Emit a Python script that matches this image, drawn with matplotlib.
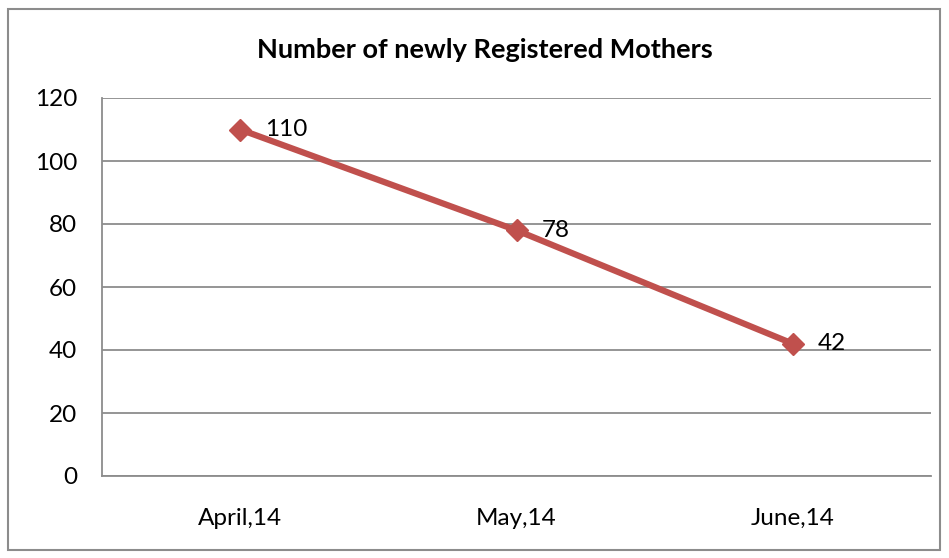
import matplotlib
matplotlib.use("Agg")
import matplotlib.pyplot as plt
from matplotlib.patches import Rectangle

# data
months = ["April,14", "May,14", "June,14"]
mothers = [110, 78, 42]
yticks = [0, 20, 40, 60, 80, 100, 120]

plt.rcParams['font.family'] = ['Lato', 'DejaVu Sans']

fig = plt.figure(figsize=(9.49, 5.58), dpi=100)
ax = fig.add_axes([102 / 949, 1 - 476 / 558, 829 / 949, 378 / 558])

x = list(range(len(months)))
ax.plot(x, mothers, color='#C0504D', lw=4.5, marker='D', markersize=11,
        markeredgecolor='#C0504D', solid_capstyle='round', zorder=3)
for xi, v in zip(x, mothers):
    ax.annotate(str(v), (xi, v), xytext=(18, 0), textcoords='offset points',
                va='center', ha='left', fontsize=17.5)

ax.set_xlim(-0.5, 2.5)
ax.set_ylim(0, 120)
ax.set_yticks(yticks)
ax.set_xticks(x)
ax.set_xticklabels(months)
ax.yaxis.grid(True, color='#8c8c8c', lw=1.3)
ax.set_axisbelow(True)
for s in ['top', 'right']:
    ax.spines[s].set_visible(False)
for s in ['left', 'bottom']:
    ax.spines[s].set_color('#8c8c8c')
    ax.spines[s].set_linewidth(1.3)
ax.tick_params(axis='both', length=0, labelsize=17.5)
ax.tick_params(axis='y', pad=18)
ax.tick_params(axis='x', pad=23)

fig.text(485 / 949, 1 - 50 / 558, "Number of newly Registered Mothers",
         ha='center', va='center', fontsize=19.5, fontweight='bold')

fig.patches.append(Rectangle((8 / 949, 1 - 550 / 558), 932 / 949, 541 / 558,
                             transform=fig.transFigure, fill=False,
                             edgecolor='#8c8c8c', lw=1.5))

fig.savefig("out.png", dpi=100)
